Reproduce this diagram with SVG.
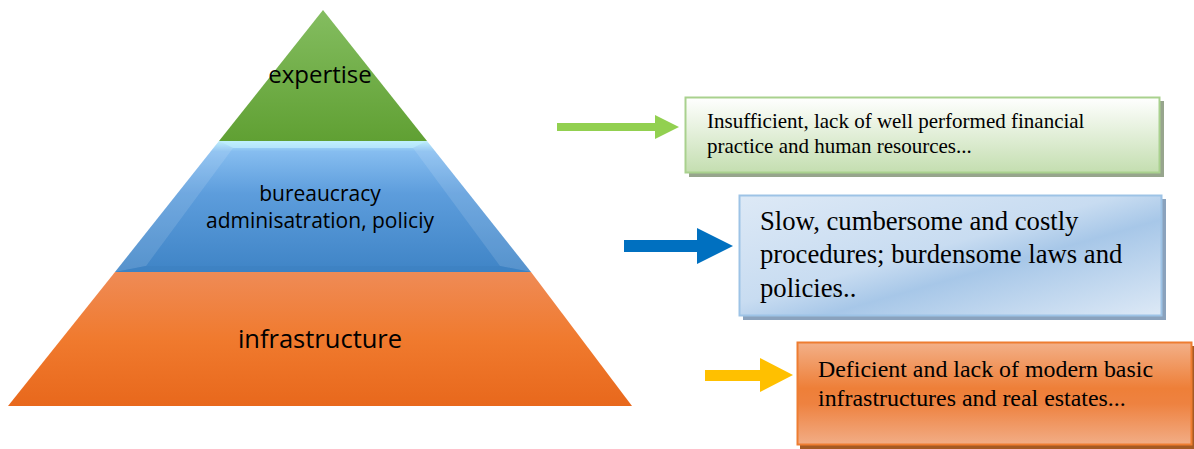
<svg xmlns="http://www.w3.org/2000/svg" width="1194" height="449" viewBox="0 0 1194 449">
  <defs>
    <linearGradient id="gGreen" x1="0" y1="0" x2="0" y2="1">
      <stop offset="0" stop-color="#84bd60"/>
      <stop offset="1" stop-color="#60a033"/>
    </linearGradient>
    <linearGradient id="gBlue" x1="0" y1="0" x2="0" y2="1">
      <stop offset="0" stop-color="#b7ecfb"/>
      <stop offset="0.08" stop-color="#86bdf0"/>
      <stop offset="0.4" stop-color="#5d9ddc"/>
      <stop offset="1" stop-color="#3f84c6"/>
    </linearGradient>
    <linearGradient id="gOrange" x1="0" y1="0" x2="0" y2="1">
      <stop offset="0" stop-color="#ef8b56"/>
      <stop offset="0.5" stop-color="#f07a2e"/>
      <stop offset="1" stop-color="#e8681c"/>
    </linearGradient>
    <linearGradient id="bGreen" x1="0" y1="0" x2="0" y2="1">
      <stop offset="0" stop-color="#ffffff"/>
      <stop offset="1" stop-color="#c4deb0"/>
    </linearGradient>
    <linearGradient id="bBlue" x1="0" y1="0" x2="1" y2="1">
      <stop offset="0" stop-color="#dde9f6"/>
      <stop offset="0.45" stop-color="#c8dcf1"/>
      <stop offset="0.6" stop-color="#a7c7e8"/>
      <stop offset="1" stop-color="#dde9f6"/>
    </linearGradient>
    <linearGradient id="bOrange" x1="0" y1="0" x2="0" y2="1">
      <stop offset="0" stop-color="#f3b088"/>
      <stop offset="0.45" stop-color="#ee7f38"/>
      <stop offset="0.6" stop-color="#ee8240"/>
      <stop offset="1" stop-color="#f2ad86"/>
    </linearGradient>
  </defs>
  <style>
    .lvl { font-family: "Open Sans", "Liberation Sans", sans-serif; fill: #000; text-anchor: middle; }
    .note { font-family: "Liberation Serif", "Times New Roman", serif; fill: #000; }
  </style>

  <rect width="1194" height="449" fill="#ffffff"/>

  <!-- pyramid levels -->
  <g id="level-expertise">
    <polygon points="323,10 427,141 219,141" fill="url(#gGreen)"/>
    <text class="lvl" x="320" y="83" font-size="24">expertise</text>
  </g>
  <g id="level-bureaucracy">
    <polygon points="219,141 427,141 531,272 115,272" fill="url(#gBlue)"/>
    <!-- bevel facets -->
    <polygon points="219,141 233,148 146,266 115,272" fill="#ffffff" opacity="0.12"/>
    <polygon points="427,141 413,148 500,266 531,272" fill="#ffffff" opacity="0.12"/>
    <polygon points="219,141 427,141 413,148 233,148" fill="#c7f3ff" opacity="0.6"/>
    <polygon points="115,272 531,272 500,266 146,266" fill="#3b7fc0" opacity="0.5"/>
    <text class="lvl" x="320" y="201" font-size="21">bureaucracy</text>
    <text class="lvl" x="320" y="228" font-size="21">adminisatration, policiy</text>
  </g>
  <g id="level-infrastructure">
    <polygon points="115,272 531,272 632,406 8,406" fill="url(#gOrange)"/>
    <text class="lvl" x="320" y="348" font-size="25.5">infrastructure</text>
  </g>

  <!-- arrows pointing to notes -->
  <g id="connectors">
    <polygon points="557,123 655,123 655,115 679,127 655,139 655,131 557,131" fill="#92d050"/>
    <polygon points="624,240 697,240 697,228 733,246 697,264 697,252 624,252" fill="#0070c0"/>
    <polygon points="705,370 760,370 760,358 793,375 760,392 760,381 705,381" fill="#ffc000"/>
  </g>

  <!-- notes -->
  <g id="note-expertise">
    <rect x="689" y="101" width="475" height="76" fill="#97a58d"/>
    <rect x="685.5" y="97.5" width="474" height="75" fill="url(#bGreen)" stroke="#a9d18e" stroke-width="2"/>
    <text class="note" font-size="21"><tspan x="707" y="128">Insufficient, lack of well performed financial</tspan><tspan x="707" y="153">practice and human resources...</tspan></text>
  </g>
  <g id="note-bureaucracy">
    <rect x="743" y="199" width="423" height="121" fill="#8aa2bd"/>
    <rect x="739.5" y="195.5" width="422" height="120" fill="url(#bBlue)" stroke="#9dc3e6" stroke-width="2"/>
    <text class="note" font-size="26.7"><tspan x="760" y="230">Slow, cumbersome and costly</tspan><tspan x="760" y="263">procedures; burdensome laws and</tspan><tspan x="760" y="297">policies..</tspan></text>
  </g>
  <g id="note-infrastructure">
    <rect x="800" y="346" width="394" height="103" fill="#a65a23"/>
    <rect x="797.5" y="342.5" width="394" height="102" fill="url(#bOrange)" stroke="#ee7d31" stroke-width="2"/>
    <text class="note" font-size="23.9"><tspan x="818" y="377">Deficient and lack of modern basic</tspan><tspan x="818" y="406">infrastructures and real estates...</tspan></text>
  </g>
</svg>
